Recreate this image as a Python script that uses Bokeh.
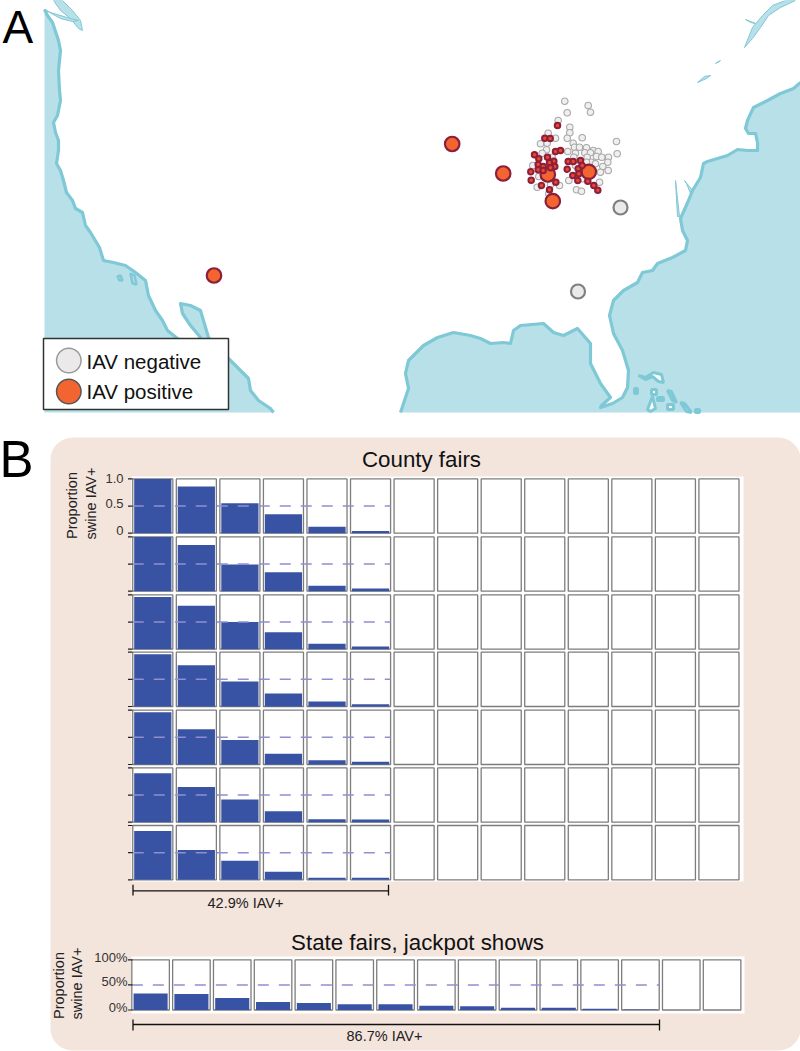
from bokeh.plotting import figure
from bokeh.models import Range1d, ColumnDataSource
from bokeh.core.properties import value
from bokeh.embed import file_html
from bokeh.resources import INLINE
import math

# ---------- data ----------
county_rows = [
    [1.00, 0.86, 0.55, 0.35, 0.12, 0.04],
    [1.00, 0.85, 0.49, 0.35, 0.10, 0.05],
    [0.96, 0.80, 0.50, 0.31, 0.10, 0.05],
    [0.96, 0.76, 0.46, 0.24, 0.09, 0.04],
    [0.96, 0.65, 0.45, 0.20, 0.08, 0.05],
    [0.90, 0.65, 0.42, 0.20, 0.055, 0.05],
    [0.90, 0.55, 0.35, 0.15, 0.04, 0.04],
]
county_panels = 14
state_values = [0.33, 0.32, 0.24, 0.16, 0.14, 0.113, 0.113, 0.087, 0.073, 0.047, 0.047, 0.027, 0.008]
state_panels = 15
county_ticks = [1.0, 0.5, 0.0]
county_tick_labels = ["1.0", "0.5", "0"]
state_ticks = [1.0, 0.5, 0.0]
state_tick_labels = ["100%", "50%", "0%"]

neg_x = [564.3, 587.7, 566.7, 590, 557.7, 569.3, 569.3, 566.7, 581.7, 547.7, 555, 540, 546.7, 572.7, 574, 579, 586, 592.7, 597.7, 616, 616.7, 546, 541.7, 551.7, 567.3, 575, 573.3, 584.3, 590, 596, 601.3, 608, 586.7, 590.7, 586, 595, 607.3, 602.3, 607.7, 600, 532.3, 575, 568.3, 581.7, 599, 536.7, 559, 576, 581, 548.3, 538.3, 550]
neg_y = [100.7, 105, 112.3, 111.7, 120, 126.7, 132.3, 137.7, 137.3, 132.7, 137.7, 143.3, 142.7, 142.7, 146.7, 146.7, 147.3, 150, 151, 141, 153.3, 149.3, 152.7, 156.7, 151, 152.7, 156.7, 152.3, 152.3, 156, 156.7, 156.7, 156.7, 161.7, 161.7, 163.3, 161.7, 166, 170, 171.7, 165, 165, 180, 178.3, 181.7, 186.7, 185, 189.3, 190.7, 193.3, 176, 184.3]
pos_x = [557, 544.3, 549.7, 555, 560, 534, 538.3, 547, 553.3, 549, 537.7, 542.7, 554.3, 530.3, 537.7, 542.7, 550, 567.7, 572.7, 580, 566.7, 577.7, 581.7, 572.3, 578.3, 530.7, 541, 555.3, 577.3, 587.3, 549, 593.3, 597.3]
pos_y = [125, 137.7, 138, 151, 150, 154.3, 158.3, 156.7, 160.7, 162.3, 164, 166, 166, 171.3, 169.3, 170, 167.3, 161, 161, 160, 168.7, 168.3, 165, 175, 173.3, 179.7, 185, 181.7, 180, 180.7, 189.3, 185, 189.7]
big_pos_x = [547.3, 588.3, 552.3, 502.7, 451.7, 213.5]
big_pos_y = [174, 171.3, 200.7, 173, 143.5, 275]
big_neg_x = [620, 577.5]
big_neg_y = [207, 291]

pacific_x = [44, 47, 52, 58, 60, 58, 59, 60, 57, 53, 55, 58, 58, 56, 60, 63, 66, 72, 75, 82, 85, 90, 99, 103, 113, 125, 135, 145, 148, 155, 162, 167, 177, 190, 200, 190, 182, 180, 190, 200, 208, 215, 230, 238, 248, 250, 258, 270, 273]
pacific_y = [9, 15, 22, 40, 50, 70, 90, 100, 115, 122, 132, 140, 150, 163, 170, 180, 192, 200, 208, 212, 225, 232, 247, 260, 262, 265, 272, 280, 295, 310, 320, 330, 338, 346, 337, 325, 313, 303, 305, 310, 337, 346, 360, 368, 378, 390, 400, 408, 412]
atlantic_x = [800, 793, 780, 767, 753, 747, 745, 748, 755, 757, 757, 747, 737, 727, 707, 703, 700, 692, 688, 680, 682, 687, 685, 672, 657, 652, 642, 637, 623, 613, 609, 613, 622, 628, 627, 622, 612, 600, 601, 610, 600, 590, 590, 577, 563, 553, 543, 520, 513, 510, 503, 490, 480, 470, 453, 437, 423, 408, 405, 408, 400]
atlantic_y = [82, 88, 93, 100, 107, 120, 128, 133, 133, 142, 150, 150, 149, 155, 161, 163, 177, 190, 200, 218, 230, 240, 250, 257, 263, 270, 272, 282, 290, 300, 315, 333, 350, 370, 387, 397, 403, 407, 405, 397, 383, 363, 343, 328, 335, 332, 323, 325, 330, 343, 342, 343, 338, 335, 332, 337, 345, 360, 373, 388, 412]
# small water bodies and islands
water_x = [
    [53, 62, 72, 80, 82, 78, 70, 60],
    [44, 60, 72, 78, 70, 50],
    [744, 752, 760, 768, 780, 795, 785, 772, 762, 752],
    [675, 677, 679, 677, 676],
    [684, 692, 690, 686],
    [697, 704, 710, 706],
    [716, 720, 719, 715],
    [745, 750, 755, 750],
]
water_y = [
    [0, 0, 10, 20, 30, 28, 18, 10],
    [9, 18, 21, 20, 18, 12],
    [47, 38, 27, 15, 7, 0, 0, 5, 15, 27],
    [180, 198, 216, 216, 198],
    [180, 190, 193, 183],
    [82, 76, 75, 78],
    [62, 60, 61, 63],
    [19, 21, 23, 22],
]
isle_x = [
    [117, 120, 122, 119],
    [130, 134, 136, 132],
    [638, 645, 653, 661, 663, 658, 652, 645],
    [634, 637, 637, 634],
    [651, 656, 656, 651],
    [657, 663, 663, 657],
    [647, 652, 655, 650],
    [667, 671, 676, 672],
    [667, 673, 673, 667],
    [680, 684, 691, 686],
    [695, 699, 699, 695],
]
isle_y = [
    [276, 275, 280, 280],
    [273, 275, 284, 283],
    [375, 377, 372, 374, 382, 381, 376, 379],
    [388, 388, 393, 393],
    [389, 389, 394, 394],
    [397, 397, 400, 400],
    [409, 396, 408, 411],
    [390, 391, 402, 400],
    [404, 404, 409, 409],
    [402, 403, 412, 411],
    [409, 409, 412, 412],
]

# ---------- styles ----------
WATER = "#b7e0e8"
COAST = "#7fc8d6"
BAR = "#3953a4"
FRAME = "#7d7d7d"
DASH = "#8f90cf"
PANEL = "#f3e4dc"
ORANGE = "#f26430"
DARKRED = "#8e1f3b"
FONT = value("Liberation Sans")

W, H = 800, 1051
p = figure(width=W, height=H, x_range=Range1d(0, W), y_range=Range1d(H, 0),
           x_axis_type=None, y_axis_type=None, toolbar_location=None,
           output_backend="svg", min_border=0, outline_line_color=None,
           background_fill_color="white", border_fill_color="white")
p.grid.visible = False


def label(x, y, s, size, color="#111111", align="left", angle=0.0):
    # y is the baseline of an upright text or the centre of a rotated one
    baseline = "middle" if angle else "alphabetic"
    yy = y if angle else y - 0.31 * size
    p.text(x=[x], y=[yy], text=[s], text_font=FONT, text_font_size=f"{size}px",
           text_color=color, text_align=align, text_baseline=baseline, angle=angle)


# ---------- panel A: map ----------
p.patch(pacific_x + [44], pacific_y + [412], fill_color=WATER, line_color=None)
p.patch(atlantic_x + [800], atlantic_y + [412], fill_color=WATER, line_color=None)
p.patches(water_x, water_y, fill_color=WATER, line_color=COAST, line_width=1)
p.patches(isle_x[2:], isle_y[2:], fill_color="white", line_color=COAST, line_width=3)
p.patches(isle_x[:2], isle_y[:2], fill_color=WATER, line_color=COAST, line_width=2.5)
p.line(pacific_x, pacific_y, line_color=COAST, line_width=3.2, line_join="round")
p.line(atlantic_x, atlantic_y, line_color=COAST, line_width=3.2, line_join="round")

p.scatter(neg_x, neg_y, size=6.5, fill_color="#f0eeee", line_color="#a8a8a8", line_width=1.1)
p.scatter(big_neg_x, big_neg_y, size=14, fill_color="#ece9ea", line_color="#808080", line_width=2.2)
p.scatter(big_pos_x, big_pos_y, size=14.5, fill_color=ORANGE, line_color=DARKRED, line_width=2.2)
p.scatter(pos_x, pos_y, size=5.5, fill_color="#e8482c", line_color=DARKRED, line_width=2)

p.quad(left=[43], right=[228], top=[338], bottom=[409], fill_color="white",
       line_color="#333333", line_width=1.5)
p.scatter([68.3], [360], size=24.5, fill_color="#ece9ea", line_color="#9a9a9a", line_width=1.5)
p.scatter([68.3], [391], size=24.5, fill_color=ORANGE, line_color="#555555", line_width=1.5)
label(86, 367, "IAV negative", 20.5)
label(86, 397, "IAV positive", 20.5)

label(2, 41, "A", 46, "#000000")
label(-1, 475, "B", 51, "#000000")

# ---------- panel B ----------
p.quad(left=[50], right=[800], top=[437], bottom=[1050], fill_color=PANEL,
       line_color=None, border_radius=22)
p.quad(left=[131], right=[743], top=[476], bottom=[881], fill_color="white", line_color=None)
p.quad(left=[131], right=[744], top=[956], bottom=[1013], fill_color="white", line_color=None)

label(421, 466, "County fairs", 22.3, align="center")
label(417, 949, "State fairs, jackpot shows", 22.3, align="center")


def x_scale(name, centre, pitch):
    p.extra_x_ranges[name] = Range1d((0 - centre) / pitch, (W - centre) / pitch)


def y_scale(name, zero, unit):
    p.extra_y_ranges[name] = Range1d((zero - H) / unit, zero / unit)


def small_multiples(xname, yname, values, panels, bar_width, tick_x, tick_labels, ticks, offsets, label_right):
    idx = list(range(panels))
    p.quad(left=[i - 0.46 for i in idx], right=[i + 0.46 for i in idx],
           bottom=[0] * panels, top=[1.0] * panels,
           x_range_name=xname, y_range_name=yname,
           fill_color="white", line_color=FRAME, line_width=1.3)
    p.vbar(x=list(range(len(values))), top=values, bottom=0, width=bar_width,
           x_range_name=xname, y_range_name=yname, fill_color=BAR, line_color=None)
    n = len(values)
    p.line(x=[-0.46, n - 1 + 0.46], y=[0.5, 0.5], x_range_name=xname, y_range_name=yname,
           line_color=DASH, line_width=1.5, line_dash="11 10")
    p.segment(x0=[tick_x] * len(ticks), x1=[tick_x + 4.5] * len(ticks), y0=ticks, y1=ticks,
              y_range_name=yname, line_color="#222222", line_width=1.2)
    if tick_labels:
        src = ColumnDataSource(dict(x=[label_right] * len(ticks), y=ticks, t=tick_labels, o=offsets))
        p.text(x="x", y="y", text="t", y_offset="o", source=src, y_range_name=yname,
               text_font=FONT, text_font_size="13px", text_color="#333333",
               text_align="right", text_baseline="middle")


x_scale("county", 152.3, 43.55)
x_scale("state", 150.1, 40.82)
row_zero = [532.7, 590.7, 648.7, 706.0, 764.0, 821.7, 879.3]
for r, vals in enumerate(county_rows):
    name = f"row{r}"
    y_scale(name, row_zero[r], 54.3)
    small_multiples("county", name, vals, county_panels, 0.855, 127.5,
                    county_tick_labels if r == 0 else None, county_ticks, [0, -2.5, -2.5], 123)

y_scale("state_y", 1009.5, 50.2)
small_multiples("state", "state_y", state_values, state_panels, 0.835, 127.5,
                state_tick_labels, state_ticks, [-2.5, -3, -3], 127)

# brackets
p.line([132.5, 388], [890.3, 890.3], line_color="#111111", line_width=1.3)
p.segment([132.5, 388], [884.3, 884.3], [132.5, 388], [895, 895], line_color="#111111", line_width=1.3)
label(245, 907.3, "42.9% IAV+", 14.5, "#222222", align="center")
p.line([132.5, 659], [1024, 1024], line_color="#111111", line_width=1.3)
p.segment([132.5, 659], [1019, 1019], [132.5, 659], [1030, 1030], line_color="#111111", line_width=1.3)
label(384, 1040, "86.7% IAV+", 14.5, "#222222", align="center")

# y titles
up = math.pi / 2
label(71.7, 505, "Proportion", 14.5, "#222222", align="center", angle=up)
label(90, 503, "swine IAV+", 14.5, "#222222", align="center", angle=up)
label(58.5, 985, "Proportion", 14.5, "#222222", align="center", angle=up)
label(76.7, 983, "swine IAV+", 14.5, "#222222", align="center", angle=up)

open("out.html", "w").write(file_html(p, INLINE))
